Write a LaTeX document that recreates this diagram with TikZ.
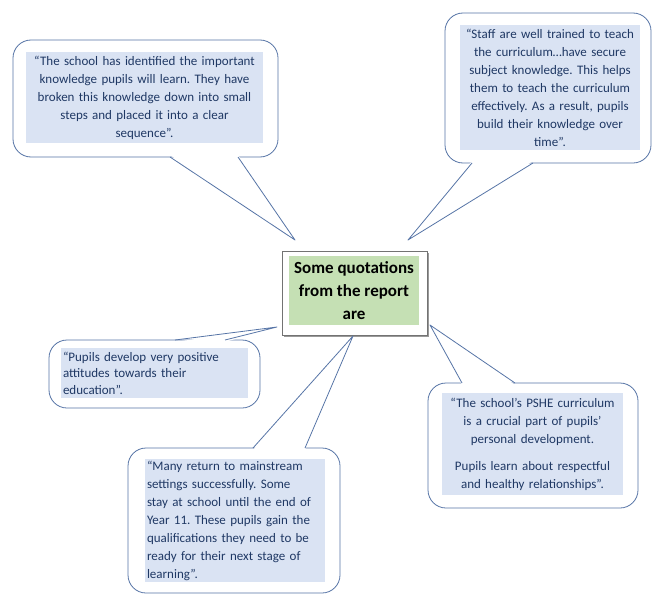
\documentclass[tikz,border=0pt]{standalone}
\usepackage{fontspec}
\setmainfont{Carlito}
\frenchspacing
\definecolor{bubbleline}{RGB}{86,116,166}
\definecolor{quoteblue}{RGB}{218,227,243}
\definecolor{quotetext}{RGB}{31,56,100}
\definecolor{headgreen}{RGB}{197,224,180}

\begin{document}
\begin{tikzpicture}[x=1pt, y=-1pt, every node/.style={font=\fontsize{13}{18}\selectfont, text=quotetext, inner sep=0pt}]
    \tikzset{bubble/.style={draw=bubbleline, fill=white, line width=0.8pt, rounded corners=18pt},
             tail/.style={draw=bubbleline, line width=0.8pt, line join=round},
             quote/.style={fill=quoteblue, inner sep=2pt}}
    \useasboundingbox (0,0) rectangle (652,594);
    % Centre box
    \fill[gray!80] (283.5,252.5) rectangle (428.5,336.5);
    \draw[fill=white, draw=gray!90!black, line width=0.8pt] (282,251) rectangle (427,335);
    \node[fill=headgreen, minimum width=130pt, minimum height=69pt, align=center, text=black,
          font=\fontsize{17}{23}\selectfont\bfseries] (centre) at (354,290.5) {Some quotations\\ from the report\\ are};
    % Tail tips
    \coordinate (tip1) at (295,240);
    \coordinate (tip2) at (408,240);
    \coordinate (tip3) at (277,327);
    \coordinate (tip4) at (430,325);
    \coordinate (tip5) at (353,336);
    % Quote bubbles: box, then white tail over the border, then tail sides
    \draw[bubble] (13,40) rectangle (278,157);
    \fill[white] (238,155) -- (tip1) -- (170,155) -- cycle;
    \draw[tail] (238,157) -- (tip1) -- (170,157);
    \draw[bubble] (445,13) rectangle (651,163);
    \fill[white] (533,161) -- (tip2) -- (472,161) -- cycle;
    \draw[tail] (533,163) -- (tip2) -- (472,163);
    \draw[bubble] (49,340) rectangle (260,408);
    \fill[white] (175,342) -- (tip3) -- (225,342) -- cycle;
    \draw[tail] (175,340) -- (tip3) -- (225,340);
    \draw[bubble] (428,383) rectangle (638,508);
    \fill[white] (462,385) -- (tip4) -- (515,385) -- cycle;
    \draw[tail] (462,383) -- (tip4) -- (515,383);
    \draw[bubble] (128,448) rectangle (340,593);
    \fill[white] (253,450) -- (tip5) -- (305,450) -- cycle;
    \draw[tail] (253,448) -- (tip5) -- (305,448);
    % Quote texts
    \node[quote, text width=233pt, minimum height=91pt, align=center] (q1) at (144.5,97.5)
        {“The school has identified the important\\ knowledge pupils will learn. They have\\ broken this knowledge down into small\\ steps and placed it into a clear\\ sequence”.};
    \node[quote, text width=176pt, minimum height=125pt, align=center] (q2) at (550,87.5)
        {“Staff are well trained to teach\\ the curriculum…have secure\\ subject knowledge. This helps\\ them to teach the curriculum\\ effectively. As a result, pupils\\ build their knowledge over\\ time”.};
    \node[quote, text width=183pt, minimum height=50pt, align=left, font=\fontsize{13}{16.5}\selectfont] (q3) at (154.5,373)
        {“Pupils develop very positive\\ attitudes towards their\\ education”.};
    \node[quote, text width=177pt, minimum height=102pt, align=center] (q4) at (532.5,444)
        {“The school’s PSHE curriculum\\ is a crucial part of pupils’\\ personal development.\\[9pt] Pupils learn about respectful\\ and healthy relationships”.};
    \node[quote, text width=176pt, minimum height=117pt, align=left] (q5) at (235,520.5)
        {“Many return to mainstream\\ settings successfully. Some\\ stay at school until the end of\\ Year 11. These pupils gain the\\ qualifications they need to be\\ ready for their next stage of\\ learning”.};
\end{tikzpicture}
\end{document}
